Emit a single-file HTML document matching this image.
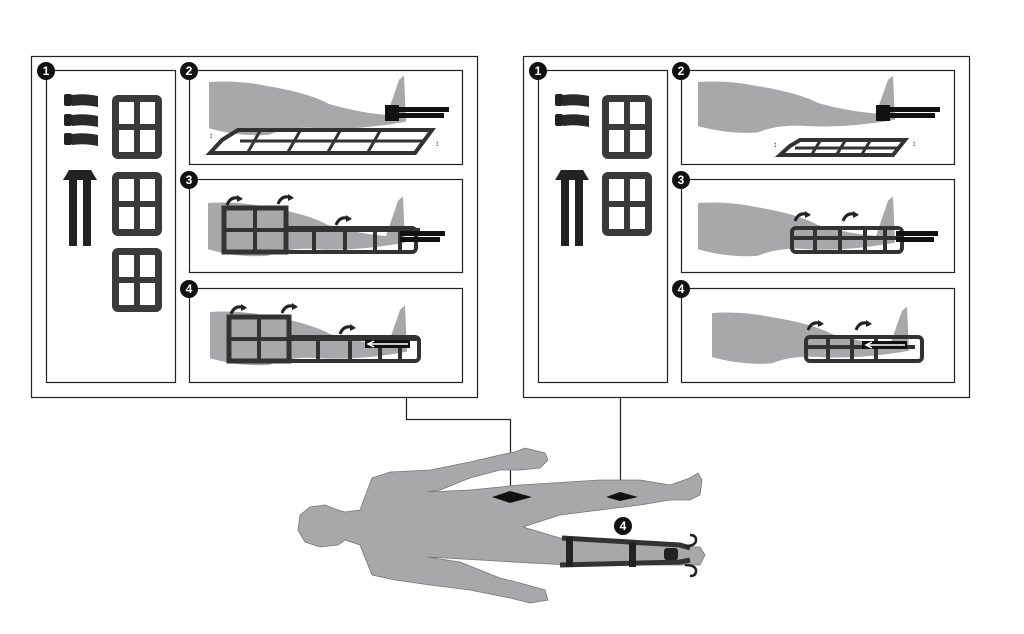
<!DOCTYPE html>
<html><head><meta charset="utf-8"><style>
html,body{margin:0;padding:0;background:#fff;}
svg{display:block;}
text{font-family:"Liberation Sans",sans-serif;font-weight:bold;fill:#fff;font-size:12px;text-anchor:middle;}
</style></head><body>
<svg width="1024" height="634" viewBox="0 0 1024 634" xmlns="http://www.w3.org/2000/svg">
<defs>
<g id="win">
<rect x="0" y="0" width="50" height="64" rx="6" fill="#3a3a3a"/>
<rect x="7" y="7" width="15" height="22" fill="#fff"/><rect x="28" y="7" width="15" height="22" fill="#fff"/>
<rect x="7" y="35" width="15" height="22" fill="#fff"/><rect x="28" y="35" width="15" height="22" fill="#fff"/>
</g>
<g id="roll"><rect x="0" y="0" width="8" height="12" rx="2" fill="#222"/><path d="M8 1 Q20 -1 34 2 L34 13 Q20 10 8 12Z" fill="#2a2a2a"/></g>
<g id="straps"><path d="M0 10 L6 0 L28 0 L34 10Z" fill="#222"/><rect x="6" y="6" width="8" height="70" fill="#222"/><rect x="20" y="6" width="8" height="70" fill="#222"/></g>
<path id="leg" d="M0 0 Q30 -2 60 4 Q100 10 120 20 Q150 28 178 30 L190 -2 L195 -6 L197 36 Q150 44 110 42 Q80 40 60 48 Q30 50 0 42Z" fill="#a8a8aa"/>
<g id="arrow"><path d="M0 8 Q4 -2 14 2" fill="none" stroke="#222" stroke-width="3"/><path d="M10 -2 L16 2 L10 5Z" fill="#222"/></g>
</defs>

<!-- LEFT BIG BOX -->
<rect x="31.5" y="56.5" width="446" height="341" fill="#fff" stroke="#222" stroke-width="1.2"/>
<rect x="46.5" y="70.5" width="129" height="312" fill="none" stroke="#222" stroke-width="1.2"/>
<rect x="189.5" y="70.5" width="273" height="94" fill="none" stroke="#222" stroke-width="1.2"/>
<rect x="189.5" y="179.5" width="273" height="93" fill="none" stroke="#222" stroke-width="1.2"/>
<rect x="189.5" y="288.5" width="273" height="94" fill="none" stroke="#222" stroke-width="1.2"/>
<g transform="translate(46,71)"><circle r="9" fill="#111"/><text y="4">1</text></g>
<g transform="translate(189,71)"><circle r="9" fill="#111"/><text y="4">2</text></g>
<g transform="translate(189,180)"><circle r="9" fill="#111"/><text y="4">3</text></g>
<g transform="translate(189,289)"><circle r="9" fill="#111"/><text y="4">4</text></g>
<use href="#roll" transform="translate(64,94)"/><use href="#roll" transform="translate(64,114)"/><use href="#roll" transform="translate(64,133)"/>
<use href="#straps" transform="translate(63,170)"/>
<use href="#win" transform="translate(112,95)"/><use href="#win" transform="translate(112,172)"/><use href="#win" transform="translate(112,248)"/>
<!-- panel 2 -->
<use href="#leg" transform="translate(209,82) scale(1,1.1)"/>
<rect x="385" y="105" width="14" height="16" fill="#111"/><rect x="399" y="107" width="50" height="5" fill="#111"/><rect x="399" y="113" width="45" height="5" fill="#111"/>
<path d="M222 140 L238 130 L432 130 L415 153 L210 153Z" fill="none" stroke="#333" stroke-width="4"/>
<path d="M260 131 L248 152 M300 131 L288 152 M340 131 L328 152 M380 131 L368 152 M240 141 L425 141" stroke="#333" stroke-width="3"/>
<text x="211" y="138" style="fill:#333;font-size:8px">↕</text><text x="437" y="146" style="fill:#333;font-size:8px">↕</text>
<!-- panel 3 -->
<use href="#leg" transform="translate(208,203) scale(1,1.1)"/>
<rect x="224" y="208" width="62" height="44" fill="none" stroke="#333" stroke-width="5"/>
<path d="M224 230 H420 M255 208 V252 M286 230 V252 M314 230 V252 M345 230 V252 M375 230 V252 M400 230 V252" stroke="#333" stroke-width="4" fill="none"/>
<rect x="286" y="228" width="130" height="24" rx="4" fill="none" stroke="#333" stroke-width="4"/>
<rect x="400" y="231" width="45" height="5" fill="#111"/><rect x="400" y="237" width="40" height="5" fill="#111"/>
<use href="#arrow" transform="translate(227,197)"/><use href="#arrow" transform="translate(278,196)"/><use href="#arrow" transform="translate(336,217)"/>
<!-- panel 4 -->
<use href="#leg" transform="translate(210,312) scale(1,1.1)"/>
<rect x="229" y="317" width="60" height="44" fill="none" stroke="#333" stroke-width="5"/>
<path d="M229 339 H420 M259 317 V361 M289 339 V361 M318 339 V361 M350 339 V361 M380 339 V361 M400 339 V361" stroke="#333" stroke-width="4" fill="none"/>
<rect x="289" y="337" width="130" height="24" rx="4" fill="none" stroke="#333" stroke-width="4"/>
<rect x="365" y="340" width="45" height="8" fill="#111"/><path d="M408 344 H370 M374 341 L368 344 L374 347" stroke="#fff" stroke-width="1.5" fill="none"/>
<use href="#arrow" transform="translate(231,306)"/><use href="#arrow" transform="translate(282,305)"/><use href="#arrow" transform="translate(340,326)"/>

<!-- RIGHT BIG BOX -->
<rect x="523.5" y="56.5" width="446" height="341" fill="#fff" stroke="#222" stroke-width="1.2"/>
<rect x="538.5" y="70.5" width="129" height="312" fill="none" stroke="#222" stroke-width="1.2"/>
<rect x="681.5" y="70.5" width="273" height="94" fill="none" stroke="#222" stroke-width="1.2"/>
<rect x="681.5" y="179.5" width="273" height="93" fill="none" stroke="#222" stroke-width="1.2"/>
<rect x="681.5" y="288.5" width="273" height="94" fill="none" stroke="#222" stroke-width="1.2"/>
<g transform="translate(538,71)"><circle r="9" fill="#111"/><text y="4">1</text></g>
<g transform="translate(681,71)"><circle r="9" fill="#111"/><text y="4">2</text></g>
<g transform="translate(681,180)"><circle r="9" fill="#111"/><text y="4">3</text></g>
<g transform="translate(681,289)"><circle r="9" fill="#111"/><text y="4">4</text></g>
<use href="#roll" transform="translate(555,94)"/><use href="#roll" transform="translate(555,114)"/>
<use href="#straps" transform="translate(555,170)"/>
<use href="#win" transform="translate(602,95)"/><use href="#win" transform="translate(602,172)"/>
<!-- r panel 2 -->
<use href="#leg" transform="translate(698,82) scale(1,1.05)"/>
<rect x="876" y="105" width="14" height="16" fill="#111"/><rect x="890" y="107" width="50" height="5" fill="#111"/><rect x="890" y="113" width="45" height="5" fill="#111"/>
<path d="M790 146 L800 140 L905 140 L893 155 L780 155Z" fill="none" stroke="#333" stroke-width="4"/>
<path d="M820 141 L812 154 M845 141 L837 154 M870 141 L862 154 M795 148 H898" stroke="#333" stroke-width="3"/>
<text x="775" y="147" style="fill:#333;font-size:8px">↕</text><text x="914" y="146" style="fill:#333;font-size:8px">↕</text>
<!-- r panel 3 -->
<use href="#leg" transform="translate(698,203) scale(1,1.1)"/>
<rect x="792" y="228" width="110" height="24" rx="4" fill="none" stroke="#333" stroke-width="4"/>
<path d="M792 238 H900 M815 228 V252 M840 228 V252 M865 228 V252 M885 228 V252" stroke="#333" stroke-width="4"/>
<rect x="896" y="231" width="42" height="5" fill="#111"/><rect x="896" y="237" width="38" height="5" fill="#111"/>
<use href="#arrow" transform="translate(795,213)"/><use href="#arrow" transform="translate(843,213)"/>
<!-- r panel 4 -->
<use href="#leg" transform="translate(712,313) scale(1,1.05)"/>
<rect x="806" y="337" width="116" height="24" rx="4" fill="none" stroke="#333" stroke-width="4"/>
<path d="M806 347 H915 M828 337 V361 M852 337 V361 M876 337 V361" stroke="#333" stroke-width="4"/>
<rect x="862" y="341" width="45" height="8" fill="#111"/><path d="M905 345 H868 M872 342 L866 345 L872 348" stroke="#fff" stroke-width="1.5" fill="none"/>
<use href="#arrow" transform="translate(808,322)"/><use href="#arrow" transform="translate(856,322)"/>

<!-- connectors -->
<path d="M406.5 397 V419.5 H510.5 V497" fill="none" stroke="#222" stroke-width="1.2"/>
<path d="M620.5 397 V493" fill="none" stroke="#222" stroke-width="1.2"/>

<!-- body -->
<path d="M300 515 L310 507 L325 505 L338 510 L345 512 L360 510 L372 478 L390 472 L430 470 L470 462 L500 455 L515 452 L525 448 L545 453 L548 460 L540 468 L520 470 L500 470 L470 478 L440 490 L427 492 L470 490 L520 485 L600 480 L640 480 L670 485 L690 478 L698 473 L702 480 L700 495 L690 500 L670 500 L640 505 L600 510 L560 515 L523 527 L560 538 L640 545 L700 547 L705 555 L700 565 L640 565 L570 565 L530 563 L480 560 L427 557 L460 562 L500 578 L520 583 L545 590 L548 600 L530 603 L510 598 L470 590 L430 585 L395 580 L372 575 L360 545 L345 540 L338 545 L320 547 L305 542 L298 530Z" fill="#a8a8aa" stroke="#777" stroke-width="0.8"/>
<path d="M492 497 L510 491 L532 497 L510 503Z" fill="#111"/>
<path d="M606 497 L620 492 L638 497 L620 501Z" fill="#111"/>
<!-- leg brace -->
<path d="M562 538 L680 545 L690 548 M560 565 L680 562 L690 560" stroke="#333" stroke-width="5" fill="none"/>
<rect x="566" y="537" width="7" height="30" fill="#222"/><rect x="629" y="542" width="7" height="25" fill="#222"/>
<rect x="664" y="548" width="14" height="12" rx="3" fill="#222"/>
<path d="M685 546 Q696 546 696 540 Q696 535 690 535 M685 565 Q696 565 696 571 Q696 576 690 576" stroke="#222" stroke-width="2.5" fill="none"/>
<g transform="translate(623,526)"><circle r="9" fill="#111"/><text y="4">4</text></g>
</svg>
</body></html>
